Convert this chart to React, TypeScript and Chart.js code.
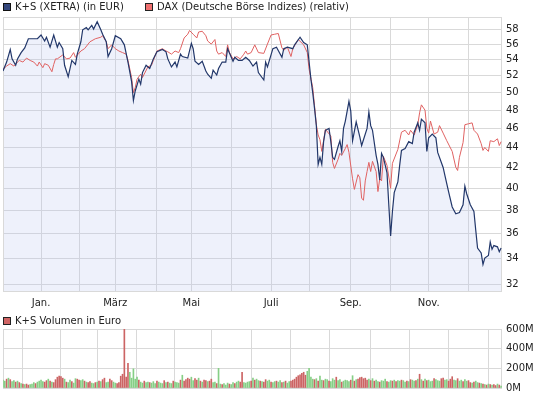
import React, { useEffect, useRef } from "react";
import { Chart, registerables } from "chart.js";

Chart.register(...registerables);

// ---- data (x = trading-day index from early Dec 2010) ----
const ksDays = [0,2,4,5,7,8,10,12,14,17,19,21,23,24,26,28,30,31,33,34,36,38,40,41,43,44,46,47,49,50,52,54,55,57,58,60,62,65,67,69,71,72,73,75,76,77,79,81,83,85,88,90,91,93,95,96,98,99,102,104,105,106,108,110,112,113,115,116,118,119,121,123,124,127,128,130,132,134,136,138,140,141,144,145,146,149,151,154,155,157,160,161,164,166,168,169,170,171,172,173,174,175,176,177,178,180,181,182,183,185,186,187,188,189,191,192,193,195,197,198,201,202,203,204,206,207,208,209,210,212,213,214,215,216,218,219,220,222,224,226,227,229,230,231,233,234,235,237,239,240,243,244,246,248,250,252,254,255,256,258,260,261,262,264,265,266,268,269,270,271,273,274,275];
const ksValues = [52.6,53.7,55.3,54.1,53.3,54.1,54.9,55.5,56.7,56.7,56.7,57.2,56.4,56.9,55.6,57.2,55.6,56.2,55.4,53.3,51.9,53.9,53.4,54.7,56.3,57.9,58.2,57.9,58.5,58.0,59.0,57.9,57.3,56.3,54.4,55.4,57.1,56.7,55.9,53.7,51.3,49.1,50.2,51.6,51.0,52.4,53.3,52.9,54.1,55.0,55.3,55.0,54.1,53.1,53.7,53.1,54.7,54.4,54.2,56.1,55.4,53.8,53.4,53.8,52.6,52.2,51.7,52.7,52.1,52.9,53.7,53.7,55.4,53.8,54.3,53.9,53.9,54.3,53.9,53.2,53.7,52.4,51.5,53.7,53.1,55.4,55.6,54.3,55.4,55.6,55.4,55.9,56.9,56.2,55.9,53.7,51.6,50.0,48.2,46.3,42.3,43.0,42.3,44.6,45.8,46.0,44.6,43.0,42.8,44.1,44.7,43.6,46.0,46.8,49.0,47.9,44.7,46.7,45.1,44.2,46.0,47.8,46.3,45.8,43.2,42.3,40.8,43.4,43.0,41.5,38.5,35.8,37.9,39.6,40.6,42.2,43.7,43.9,44.6,44.4,45.6,46.6,45.8,47.0,46.6,43.6,45.0,45.4,45.0,43.5,42.0,41.2,39.7,38.3,37.7,37.8,38.5,40.2,39.5,38.5,37.9,36.3,34.8,34.4,33.5,34.0,34.2,35.3,34.7,35.0,34.9,34.5,34.8];

const daxDays = [0,2,4,6,8,9,11,13,15,17,19,20,22,23,25,27,28,29,30,33,35,37,39,40,43,45,48,51,54,55,57,58,60,62,64,66,68,69,71,72,73,74,76,77,80,82,83,85,88,90,91,93,95,97,98,100,102,103,105,107,108,110,112,113,115,117,118,119,121,123,124,125,127,129,131,133,134,135,137,139,141,144,146,148,150,152,154,155,157,159,160,163,166,168,169,171,172,173,174,175,176,177,178,181,182,183,185,186,187,189,190,191,193,194,196,197,198,199,200,201,202,203,204,206,207,208,209,210,212,214,215,218,220,222,224,225,227,229,230,231,233,234,235,236,238,240,241,243,245,248,250,251,252,254,255,257,259,260,262,264,265,266,268,269,271,273,274,275];
const daxValues = [52.8,53.2,53.5,53.2,53.7,53.9,53.7,54.2,53.9,53.7,53.2,53.7,53.0,53.5,53.3,52.5,53.4,54.1,54.1,54.6,54.1,54.2,54.9,54.3,55.1,55.4,56.3,56.7,56.9,57.1,56.3,55.4,55.9,55.4,55.1,54.9,54.7,53.9,51.8,50.0,50.6,51.6,52.2,51.8,53.1,53.3,53.9,55.1,55.4,55.1,55.0,54.7,55.1,54.9,55.4,56.8,57.3,57.8,57.3,56.8,57.6,57.7,57.1,56.4,56.0,56.6,55.1,54.7,54.9,54.4,55.9,54.9,54.1,54.4,54.1,54.7,55.1,54.7,54.9,55.9,54.9,54.8,56.0,57.2,57.3,57.4,55.5,55.2,55.6,54.4,55.4,56.6,55.9,54.9,52.8,50.6,48.5,46.4,45.3,44.8,43.6,44.7,45.9,45.2,42.5,41.9,42.8,43.4,43.2,43.9,44.3,43.5,40.9,39.9,41.3,41.0,39.1,38.9,40.7,41.6,42.5,41.6,42.6,41.6,39.7,40.9,40.7,43.1,42.2,40.0,42.4,43.8,45.6,45.8,45.3,45.8,45.3,46.4,47.7,48.6,48.0,46.0,45.5,46.8,45.4,45.6,46.3,45.5,44.7,43.6,42.0,41.7,43.0,44.5,46.4,46.5,46.6,45.8,45.4,44.4,43.7,44.0,43.6,44.7,44.6,44.9,44.2,44.6];

const monthStarts = [21, 42, 62, 85, 104, 126, 148, 169, 192, 214, 235, 257];
const monthLabels = ["Jan.", "", "März", "", "Mai", "", "Juli", "", "Sep.", "", "Nov.", ""];
const priceTicks = [32, 34, 36, 38, 40, 42, 44, 46, 48, 50, 52, 54, 56, 58];
const volumeTicks = [0, 200, 400, 600];

// volume in million EUR, one per trading day
const volumes = [
  80,70,90,100,85,65,75,60,70,55,
  45,40,35,40,30,35,40,55,45,60,
  70,80,65,60,75,90,70,60,55,85,
  110,120,115,100,90,60,55,80,65,50,
  95,90,80,75,85,70,60,55,65,50,
  45,55,60,70,65,85,100,55,60,90,
  75,60,50,45,55,120,140,600,110,250,
  160,100,195,90,110,80,60,50,70,55,
  60,55,50,65,45,70,60,50,45,75,
  55,60,50,45,70,60,55,50,80,130,
  70,85,100,90,110,75,95,80,100,70,
  60,80,75,65,70,90,55,60,45,200,
  40,35,45,30,50,40,35,55,45,60,
  70,60,160,55,50,60,65,70,100,80,
  90,75,70,65,60,85,70,80,60,55,
  65,70,60,75,55,60,70,50,65,70,
  80,90,110,125,135,150,160,130,170,200,
  110,90,85,95,70,120,80,75,90,85,
  70,65,95,80,110,75,85,60,70,80,
  75,65,80,125,70,85,90,105,110,95,
  100,80,90,75,95,70,80,65,60,75,
  70,90,65,60,75,70,80,65,75,70,
  80,75,60,70,65,85,80,70,75,90,
  140,85,70,90,75,80,65,70,95,85,
  75,70,95,100,80,85,70,90,115,80,
  75,95,70,80,65,85,70,75,55,50,
  60,70,55,50,45,40,35,30,40,35,
  30,35,25,40,30,20
];
// g = up day (green), r = down day (red)
const volumeDirections =
  "ggrgrggrgr" + "grgrrgggrg" + "gggrrgrgrr" + "rrrrgrggrg" + "grrggrgrrg" +
  "grgrgrrggr" + "rggrrrrrrr" + "gggggrggrg" + "grgggrgggr" + "grggrgggrg" +
  "rrrrggrrgr" + "grrgrrggrg" + "grgggrggrg" + "grrggggrgr" + "ggrgrrggrg" +
  "grggrgrggr" + "rrrrrrrrgg" + "ggrgrggrgg" + "rgggrggrgg" + "ggrgrgrrrr" +
  "rrgrgrggrg" + "ggrggrgrgg" + "rggrgrggrg" + "rgrgrgggrg" + "ggrrggrrrg" +
  "grggrggrrg" + "rggrgrgrgr" + "grrgrg";

// ---- styling ----
const FONT_FAMILY = "'DejaVu Sans', 'Liberation Sans', sans-serif";
const TICK_FONT = { family: FONT_FAMILY, size: 10 };
const TEXT_COLOR = "#222";
const GRID_COLOR = "#d9d9d9";
const KS_COLOR = "#22376a";
const DAX_COLOR = "#e06262";
const UP_COLOR = "#86cf86";
const DOWN_COLOR = "#cc6464";
const X_MAX = 275.5;

const borderPlugin = {
  id: "plotBorder",
  beforeDatasetsDraw(chart: any) {
    const { ctx, chartArea } = chart;
    ctx.save();
    ctx.strokeStyle = GRID_COLOR;
    ctx.lineWidth = 1;
    ctx.strokeRect(
      Math.round(chartArea.left) + 0.5,
      Math.round(chartArea.top) + 0.5,
      Math.round(chartArea.right - chartArea.left) - 1,
      Math.round(chartArea.bottom - chartArea.top) - 1
    );
    ctx.restore();
  },
};

function monthAxis(showLabels: boolean, height: number) {
  return {
    type: "linear" as const,
    min: 0,
    max: X_MAX,
    offset: false,
    afterBuildTicks: (s: any) => {
      s.ticks = monthStarts.map((v) => ({ value: v }));
    },
    afterFit: (s: any) => {
      s.height = height;
    },
    ticks: {
      display: showLabels,
      autoSkip: false,
      maxRotation: 0,
      padding: 5,
      font: TICK_FONT,
      color: TEXT_COLOR,
      callback: (_v: any, i: number) => monthLabels[i],
    },
    grid: { color: GRID_COLOR, drawTicks: false },
    border: { display: false },
  };
}

function PriceChart() {
  const ref = useRef<HTMLCanvasElement>(null);
  useEffect(() => {
    if (!ref.current) return;
    const chart = new Chart(ref.current, {
      type: "line",
      data: {
        datasets: [
          {
            label: "K+S (XETRA) (in EUR)",
            data: ksDays.map((d, i) => ({ x: d, y: ksValues[i] })),
            borderColor: KS_COLOR,
            borderWidth: 1.2,
            backgroundColor: "rgba(185,198,238,0.24)",
            fill: "start",
            pointRadius: 0,
            tension: 0,
            order: 0,
          },
          {
            label: "DAX (Deutsche Börse Indizes) (relativ)",
            data: daxDays.map((d, i) => ({ x: d, y: daxValues[i] })),
            borderColor: DAX_COLOR,
            borderWidth: 1,
            fill: false,
            pointRadius: 0,
            tension: 0,
            order: 1,
          },
        ],
      },
      options: {
        animation: false,
        responsive: false,
        maintainAspectRatio: false,
        layout: { padding: { left: 3, top: 17, right: 0, bottom: 0 } },
        plugins: {
          legend: { display: false },
          tooltip: { enabled: false },
          filler: { drawTime: "beforeDatasetsDraw" },
        } as any,
        scales: {
          x: monthAxis(true, 23) as any,
          y: {
            type: "logarithmic",
            position: "right",
            min: 31.41,
            max: 59.65,
            afterBuildTicks: (s: any) => {
              s.ticks = priceTicks.map((v) => ({ value: v }));
            },
            afterFit: (s: any) => {
              s.width = 43;
            },
            ticks: {
              font: TICK_FONT,
              color: TEXT_COLOR,
              padding: 4,
              callback: (v: any) => String(v),
            },
            grid: { color: GRID_COLOR, drawTicks: false },
            border: { display: false },
          },
        },
      },
      plugins: [borderPlugin],
    });
    return () => chart.destroy();
  }, []);
  return <canvas ref={ref} width={545} height={315} style={{ display: "block" }} />;
}

function VolumeChart() {
  const ref = useRef<HTMLCanvasElement>(null);
  useEffect(() => {
    if (!ref.current) return;
    const chart = new Chart(ref.current, {
      type: "bar",
      data: {
        datasets: [
          {
            label: "K+S Volumen in Euro",
            data: volumes.map((v, i) => ({ x: i, y: v })),
            backgroundColor: volumes.map((_v, i) =>
              volumeDirections[i] === "g" ? UP_COLOR : DOWN_COLOR
            ),
            barThickness: 1,
            borderWidth: 0,
          },
        ],
      },
      options: {
        animation: false,
        responsive: false,
        maintainAspectRatio: false,
        layout: { padding: { left: 3, top: 19, right: 0, bottom: 9 } },
        plugins: { legend: { display: false }, tooltip: { enabled: false } },
        scales: {
          x: monthAxis(false, 0) as any,
          y: {
            type: "linear",
            position: "right",
            min: 0,
            max: 600,
            afterBuildTicks: (s: any) => {
              s.ticks = volumeTicks.map((v) => ({ value: v }));
            },
            afterFit: (s: any) => {
              s.width = 43;
            },
            ticks: {
              font: TICK_FONT,
              color: TEXT_COLOR,
              padding: 4,
              callback: (v: any) => `${v}M`,
            },
            grid: { color: GRID_COLOR, drawTicks: false },
            border: { display: false },
          },
        },
      },
      plugins: [borderPlugin],
    });
    return () => chart.destroy();
  }, []);
  return <canvas ref={ref} width={545} height={88} style={{ display: "block" }} />;
}

function LegendItem(props: { left: number; top: number; color: string; border: string; text: string }) {
  return (
    <div
      style={{
        position: "absolute",
        left: props.left,
        top: props.top,
        display: "flex",
        alignItems: "center",
        whiteSpace: "nowrap",
        fontFamily: FONT_FAMILY,
        fontSize: 10,
        lineHeight: "12px",
        color: TEXT_COLOR,
      }}
    >
      <span
        style={{
          display: "inline-block",
          width: 6,
          height: 6,
          background: props.color,
          border: `1px solid ${props.border}`,
          marginRight: 4,
        }}
      />
      <span>{props.text}</span>
    </div>
  );
}

export default function App() {
  return (
    <div
      style={{
        position: "absolute",
        left: 0,
        top: 0,
        width: 545,
        height: 398,
        background: "#fff",
        overflow: "hidden",
      }}
    >
      <div style={{ position: "absolute", left: 0, top: 0 }}>
        <PriceChart />
      </div>
      <div style={{ position: "absolute", left: 0, top: 310 }}>
        <VolumeChart />
      </div>
      <LegendItem left={3} top={1} color="#34477c" border="#111" text="K+S (XETRA) (in EUR)" />
      <LegendItem left={145} top={1} color="#f07070" border="#222" text="DAX (Deutsche Börse Indizes) (relativ)" />
      <LegendItem left={3} top={315} color="#d06464" border="#222" text="K+S Volumen in Euro" />
    </div>
  );
}
